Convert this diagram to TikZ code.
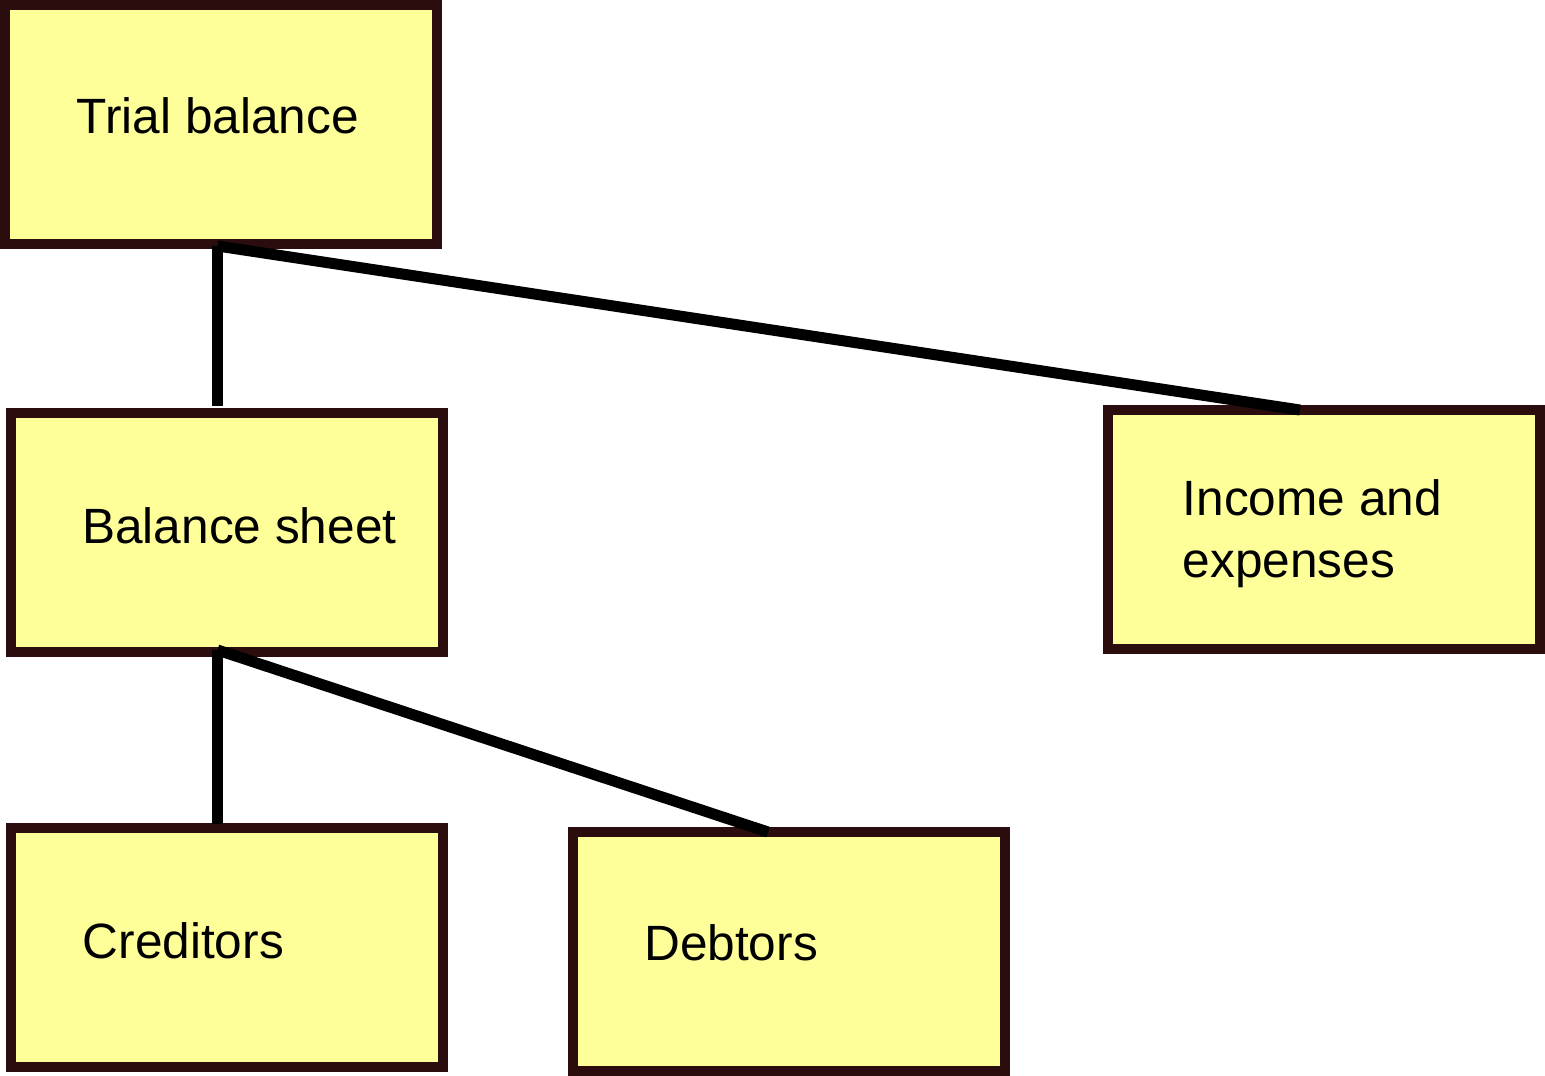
\documentclass[tikz,border=0pt]{standalone}
\usepackage{fontspec}
\setmainfont{Liberation Sans}
\definecolor{boxfill}{HTML}{FFFF99}
\definecolor{boxline}{HTML}{2B0D0D}
\tikzset{
  account/.style={rectangle, draw=boxline, fill=boxfill, line width=10pt, inner sep=0pt, outer sep=0pt, minimum width=432pt, minimum height=239pt},
  caption/.style={anchor=base west, inner sep=0pt, font=\fontsize{49.6}{62}\selectfont},
  link/.style={draw=black, line width=11pt}
}
\begin{document}
\begin{tikzpicture}[x=1pt, y=-1pt]
  \useasboundingbox (0,0) rectangle (1545,1076);

  \node (tb) [account] at (221, 124.5) {};
  \node (bs) [account] at (227, 532.5) {};
  \node (ie) [account] at (1324, 529.5) {};
  \node (cr) [account] at (227, 947.5) {};
  \node (db) [account] at (789, 951.5) {};

  \node (tbtext) [caption] at (76.5, 133) {Trial balance};
  \node (bstext) [caption] at (82, 543) {Balance sheet};
  \node (ietext) [caption, align=left] at (1182.5, 577) {Income and\\expenses};
  \node (crtext) [caption] at (82.5, 958) {Creditors};
  \node (dbtext) [caption] at (644, 960) {Debtors};

  \draw[link] ([xshift=-3.5pt, yshift=-2pt]tb.south) -- ([xshift=-9.5pt, yshift=7pt]bs.north);
  \draw[link] ([xshift=-3.5pt, yshift=-2pt]tb.south) -- ([xshift=-24pt]ie.north);
  \draw[link] ([xshift=-9.5pt, yshift=2pt]bs.south) -- ([xshift=-9.5pt, yshift=4pt]cr.north);
  \draw[link] ([xshift=-9.5pt, yshift=2pt]bs.south) -- ([xshift=-21pt]db.north);
\end{tikzpicture}
\end{document}
